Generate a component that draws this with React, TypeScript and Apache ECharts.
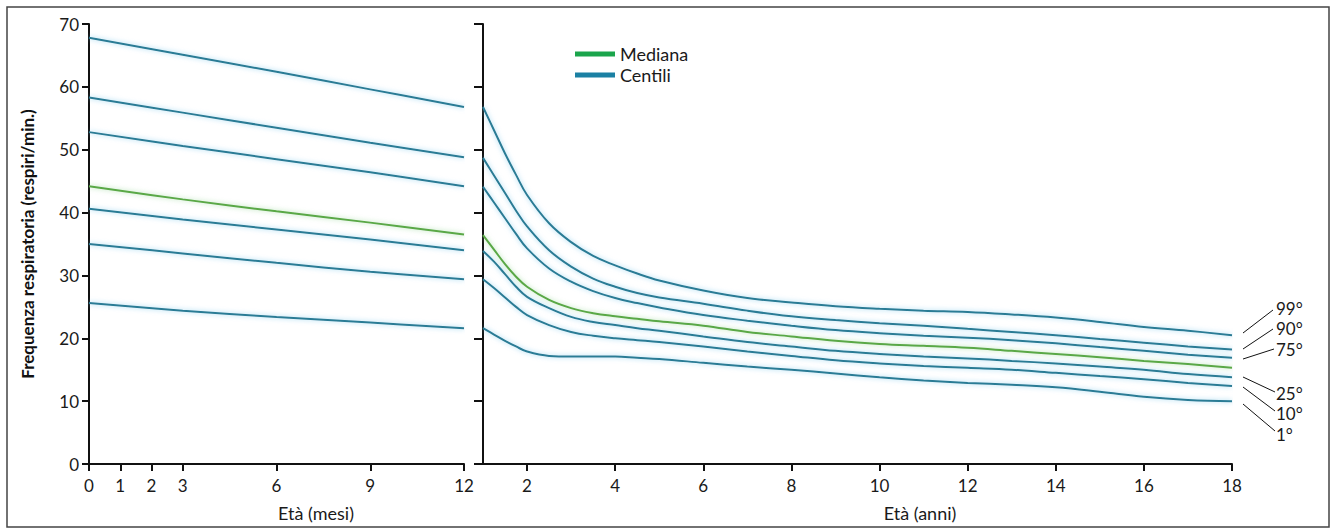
import React, { useEffect, useRef } from "react";
import * as echarts from "echarts";

// Left panel: age in months
const monthsX = [0, 3, 6, 9, 12];
const monthTicks = [0, 1, 2, 3, 6, 9, 12];
const mP99 = [67.8, 65.1, 62.4, 59.6, 56.8];
const mP90 = [58.3, 55.9, 53.5, 51.1, 48.8];
const mP75 = [52.8, 50.6, 48.5, 46.4, 44.2];
const mP50 = [44.2, 42.1, 40.2, 38.4, 36.5];
const mP25 = [40.6, 38.9, 37.3, 35.7, 34.0];
const mP10 = [35.0, 33.5, 32.0, 30.6, 29.4];
const mP1 = [25.6, 24.4, 23.4, 22.5, 21.6];

// Right panel: age in years
const yearsX = [1, 1.25, 1.5, 1.75, 2, 2.5, 3, 3.5, 4, 4.5, 5, 6, 7, 8, 9, 10, 11, 12, 13, 14, 15, 16, 17, 18];
const yearTicks = [2, 4, 6, 8, 10, 12, 14, 16, 18];
const yP99 = [56.8, 53.1, 49.4, 46.0, 42.8, 38.3, 35.3, 33.1, 31.6, 30.3, 29.2, 27.6, 26.4, 25.7, 25.1, 24.7, 24.4, 24.2, 23.8, 23.3, 22.6, 21.8, 21.2, 20.5];
const yP90 = [48.7, 45.9, 43.1, 40.3, 37.8, 34.0, 31.4, 29.5, 28.2, 27.2, 26.5, 25.5, 24.4, 23.5, 22.9, 22.4, 22.0, 21.5, 21.0, 20.5, 19.9, 19.3, 18.7, 18.2];
const yP75 = [44.1, 41.6, 39.1, 36.6, 34.3, 31.1, 29.0, 27.5, 26.4, 25.6, 24.9, 23.7, 22.8, 22.0, 21.3, 20.8, 20.4, 20.1, 19.7, 19.2, 18.6, 18.0, 17.4, 16.9];
const yP50 = [36.4, 34.1, 31.8, 29.8, 28.2, 26.1, 24.8, 24.0, 23.5, 23.1, 22.7, 22.0, 21.0, 20.3, 19.6, 19.1, 18.8, 18.5, 18.0, 17.5, 17.0, 16.4, 15.9, 15.3];
const yP25 = [33.9, 32.2, 30.2, 28.2, 26.6, 24.8, 23.4, 22.6, 22.1, 21.6, 21.2, 20.3, 19.4, 18.7, 18.0, 17.5, 17.1, 16.8, 16.4, 16.0, 15.5, 15.0, 14.3, 13.8];
const yP10 = [29.4, 28.0, 26.5, 25.0, 23.7, 22.1, 21.0, 20.4, 20.0, 19.7, 19.4, 18.7, 17.9, 17.2, 16.5, 16.0, 15.6, 15.3, 15.0, 14.5, 14.0, 13.5, 12.9, 12.4];
const yP1 = [21.6, 20.6, 19.6, 18.7, 17.9, 17.2, 17.1, 17.1, 17.1, 16.9, 16.7, 16.1, 15.5, 15.0, 14.4, 13.8, 13.3, 12.9, 12.6, 12.2, 11.5, 10.7, 10.2, 10.0];

const yTicksLabels = [0, 10, 20, 30, 40, 50, 60, 70];
const centileLabels = ["99°", "90°", "75°", "25°", "10°", "1°"];

const FONT = "Lato";
const BLUE = "#2a7b95";
const GREEN = "#5aa846";
const LEG_BLUE = "#1b80a3";
const LEG_GREEN = "#1ba54c";
const TEXT = "#1a1a1a";

export default function App() {
  const ref = useRef<HTMLDivElement>(null);
  useEffect(() => {
    if (!ref.current) return;
    const chart = echarts.init(ref.current, undefined, { renderer: "svg" });

    const mk = (name: string, xs: number[], ys: number[], axis: number, color: string) => ({
      type: "line",
      name,
      xAxisIndex: axis,
      yAxisIndex: axis,
      data: xs.map((x, i) => [x, ys[i]]),
      smooth: 0.4,
      symbol: "none",
      lineStyle: {
        color,
        width: 2,
        shadowColor: color === GREEN ? "rgba(140,210,140,0.7)" : "rgba(120,200,235,0.75)",
        shadowBlur: 5,
      },
      itemStyle: { color: name === "Mediana" ? LEG_GREEN : LEG_BLUE },
      z: name === "Mediana" ? 3 : 2,
    });

    const leftSets = [mP99, mP90, mP75, mP25, mP10, mP1];
    const rightSets = [yP99, yP90, yP75, yP25, yP10, yP1];

    const series: any[] = [];
    leftSets.forEach((s) => series.push(mk("Centili", monthsX, s, 0, BLUE)));
    series.push(mk("Mediana", monthsX, mP50, 0, GREEN));
    rightSets.forEach((s) => series.push(mk("Centili", yearsX, s, 1, BLUE)));
    series.push(mk("Mediana", yearsX, yP50, 1, GREEN));

    const axisLine = { show: true, onZero: false, lineStyle: { color: "#111", width: 2 } };
    const tickStyle = { color: "#111", width: 2 };
    const labelStyle = { color: TEXT, fontSize: 17, fontFamily: FONT };

    // leader lines for centile labels
    const leaderStarts = [[1243, 333], [1243, 349], [1243, 359], [1243, 377], [1243, 387], [1243, 404]];
    const leaderEnds = [[1273, 310], [1273, 329], [1274, 349], [1275, 392], [1275, 411], [1275, 431]];
    const labelYs = [308, 328, 349, 393, 413, 434];

    const graphics: any[] = [
      {
        type: "rect",
        shape: { x: 7, y: 7, width: 1322, height: 520 },
        style: { fill: "none", stroke: "#444", lineWidth: 1.5 },
        silent: true,
      },
      {
        type: "text",
        x: 316,
        y: 513,
        style: { text: "Età (mesi)", fill: TEXT, fontSize: 18, fontFamily: FONT, align: "center", verticalAlign: "middle" },
      },
      {
        type: "text",
        x: 920,
        y: 513,
        style: { text: "Età (anni)", fill: TEXT, fontSize: 18, fontFamily: FONT, align: "center", verticalAlign: "middle" },
      },
    ];
    centileLabels.forEach((t, i) => {
      graphics.push({
        type: "line",
        shape: { x1: leaderStarts[i][0], y1: leaderStarts[i][1], x2: leaderEnds[i][0], y2: leaderEnds[i][1] },
        style: { stroke: "#111", lineWidth: 1 },
      });
      graphics.push({
        type: "text",
        x: 1276,
        y: labelYs[i],
        style: { text: t, fill: TEXT, fontSize: 17, lineHeight: 17, fontFamily: FONT, align: "left", verticalAlign: "middle" },
      });
    });

    chart.setOption({
      animation: false,
      backgroundColor: "#ffffff",
      legend: {
        left: 570,
        top: 40,
        orient: "vertical",
        itemWidth: 40,
        itemHeight: 5,
        itemGap: 3,
        textStyle: { fontSize: 18, fontFamily: FONT, color: TEXT, lineHeight: 17 },
        data: [
          { name: "Mediana", icon: "rect", itemStyle: { color: LEG_GREEN } },
          { name: "Centili", icon: "rect", itemStyle: { color: LEG_BLUE } },
        ],
      },
      grid: [
        { left: 89, top: 24, width: 375, height: 440 },
        { left: 483, top: 24, width: 749, height: 440 },
      ],
      xAxis: [
        {
          type: "value",
          gridIndex: 0,
          min: 0,
          max: 12,
          axisLine,
          axisTick: { show: true, length: 7, lineStyle: tickStyle, customValues: monthTicks },
          axisLabel: { ...labelStyle, margin: 13, customValues: monthTicks },
          splitLine: { show: false },
        },
        {
          type: "value",
          gridIndex: 1,
          min: 1,
          max: 18,
          axisLine,
          axisTick: { show: true, length: 7, lineStyle: tickStyle, customValues: yearTicks },
          axisLabel: { ...labelStyle, margin: 13, customValues: yearTicks },
          splitLine: { show: false },
        },
      ],
      yAxis: [
        {
          type: "value",
          gridIndex: 0,
          min: 0,
          max: 70,
          interval: 10,
          axisLine,
          axisTick: { show: true, length: 7, lineStyle: tickStyle },
          axisLabel: { ...labelStyle, margin: 10, formatter: (v: number) => (yTicksLabels.includes(v) ? String(v) : "") },
          splitLine: { show: false },
          name: "Frequenza respiratoria (respiri/min.)",
          nameLocation: "middle",
          nameGap: 53,
          nameRotate: 90,
          nameTextStyle: { fontSize: 17, fontWeight: "bold", fontFamily: FONT, color: "#111" },
        },
        {
          type: "value",
          gridIndex: 1,
          min: 0,
          max: 70,
          interval: 10,
          axisLine,
          axisTick: { show: true, length: 9, lineStyle: tickStyle },
          axisLabel: { show: false },
          splitLine: { show: false },
        },
      ],
      series,
      graphic: graphics,
    });
    return () => chart.dispose();
  }, []);

  return (
    <div
      ref={ref}
      style={{ position: "fixed", left: 0, top: 0, width: 1335, height: 532, background: "#fff" }}
    />
  );
}
